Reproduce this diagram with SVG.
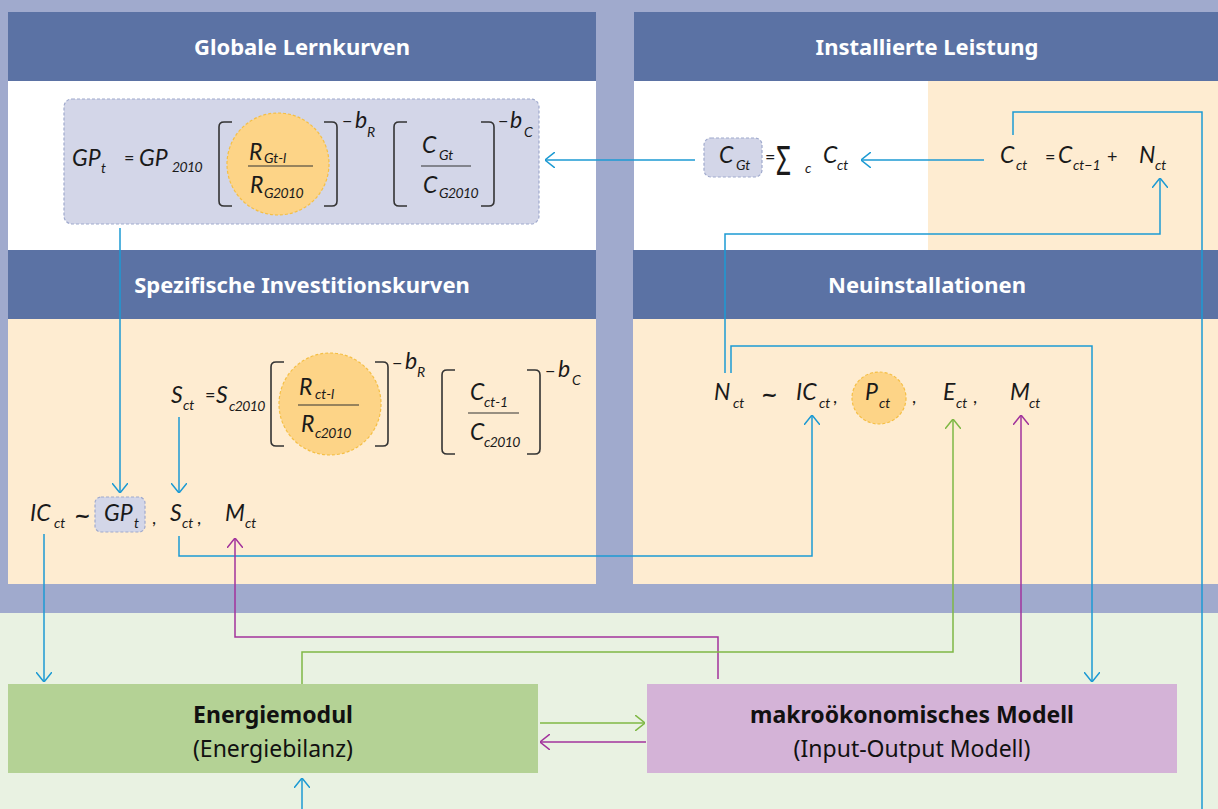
<svg xmlns="http://www.w3.org/2000/svg" width="1218" height="809" viewBox="0 0 1218 809">
<defs>
<style>
.hd{font-family:"Noto Sans","Open Sans",sans-serif;font-weight:700;font-size:22px;fill:#fff;text-anchor:middle}
.m{font-family:Lato,"Noto Sans",sans-serif;font-style:italic;font-size:23px;fill:#1a1a1a}
.s{font-family:Lato,"Noto Sans",sans-serif;font-style:italic;font-size:14px;fill:#1a1a1a}
.op{font-family:Lato,"DejaVu Sans",sans-serif;font-size:18px;fill:#1a1a1a}
.tl{font-family:"DejaVu Sans",sans-serif;font-weight:700;font-size:20px;fill:#1a1a1a}
.bx{font-family:"Noto Sans","Open Sans",sans-serif;font-size:23px;fill:#111;text-anchor:middle}
.br{fill:none;stroke:#333;stroke-width:1.6}
.fl{stroke:#333;stroke-width:1.2}
.hl{fill:#fdd487;stroke:#f5bf45;stroke-width:1.2;stroke-dasharray:3 2}
.gb{fill:#d3d6e8;stroke:#a0aacd;stroke-width:1.2;stroke-dasharray:3 2}
.cb{fill:none;stroke:#1c9ad3;stroke-width:1.5}
.cg{fill:none;stroke:#7fb845;stroke-width:1.5}
.cp{fill:none;stroke:#a2339c;stroke-width:1.5}
</style>
<marker id="ab" viewBox="0 0 10 16" refX="10" refY="8" markerWidth="10" markerHeight="16" markerUnits="userSpaceOnUse" orient="auto"><path d="M0,0 L10,8 L0,16" fill="none" stroke="#1c9ad3" stroke-width="1.5"/></marker>
<marker id="ag" viewBox="0 0 10 16" refX="10" refY="8" markerWidth="10" markerHeight="16" markerUnits="userSpaceOnUse" orient="auto"><path d="M0,0 L10,8 L0,16" fill="none" stroke="#7fb845" stroke-width="1.5"/></marker>
<marker id="ap" viewBox="0 0 10 16" refX="10" refY="8" markerWidth="10" markerHeight="16" markerUnits="userSpaceOnUse" orient="auto"><path d="M0,0 L10,8 L0,16" fill="none" stroke="#a2339c" stroke-width="1.5"/></marker>
</defs>

<!-- backgrounds -->
<rect x="0" y="0" width="1218" height="613" fill="#a0aacd"/>
<rect x="0" y="613" width="1218" height="196" fill="#e9f2e2"/>

<g id="panel-globale-lernkurven">
<rect x="8" y="12" width="588" height="69" fill="#5b72a4"/>
<text class="hd" x="302" y="55">Globale Lernkurven</text>
<rect x="8" y="81" width="588" height="169" fill="#fff"/>
</g>
<g id="panel-installierte-leistung">
<rect x="634" y="12" width="584" height="69" fill="#5b72a4"/>
<text class="hd" x="927" y="55">Installierte Leistung</text>
<rect x="634" y="81" width="294" height="169" fill="#fff"/>
<rect x="928" y="81" width="290" height="169" fill="#feecd1"/>
</g>
<g id="panel-spezifische">
<rect x="8" y="250" width="588" height="69" fill="#5b72a4"/>
<text class="hd" x="302" y="293">Spezifische Investitionskurven</text>
<rect x="8" y="319" width="588" height="265" fill="#feecd1"/>
</g>
<g id="panel-neuinstallationen">
<rect x="633" y="250" width="585" height="69" fill="#5b72a4"/>
<text class="hd" x="927" y="293">Neuinstallationen</text>
<rect x="633" y="319" width="585" height="265" fill="#feecd1"/>
</g>

<!-- Global learning curve equation -->
<g id="eq-global">
<rect class="gb" x="64" y="99" width="475" height="125" rx="8"/>
<text class="m" x="72" y="166">GP</text><text class="s" x="101" y="173">t</text>
<text class="op" x="124" y="164">=</text>
<text class="m" x="139" y="166">GP</text><text class="s" x="172" y="172" letter-spacing="-0.6">2010</text>
<path class="br" d="M232,122 H224 Q219,122 219,127 V201 Q219,206 224,206 H232 M324,122 H332 Q337,122 337,127 V201 Q337,206 332,206 H324"/>
<circle class="hl" cx="278" cy="164" r="51"/>
<text class="m" x="249" y="160">R</text><text class="s" x="264" y="163">Gt-l</text>
<line class="fl" x1="248" y1="166" x2="313" y2="166"/>
<text class="m" x="250" y="193">R</text><text class="s" x="264" y="198" letter-spacing="-0.6">G2010</text>
<text class="op" x="342" y="127" font-size="20">−</text><text class="m" x="355" y="128">b</text><text class="s" x="367" y="137">R</text>
<path class="br" d="M407,122 H399 Q394,122 394,127 V201 Q394,206 399,206 H407 M481,122 H489 Q494,122 494,127 V201 Q494,206 489,206 H481"/>
<text class="m" x="422" y="153">C</text><text class="s" x="439" y="160">Gt</text>
<line class="fl" x1="421" y1="166" x2="471" y2="166"/>
<text class="m" x="423" y="193">C</text><text class="s" x="439" y="198" letter-spacing="-0.6">G2010</text>
<text class="op" x="498" y="127" font-size="20">−</text><text class="m" x="510" y="128">b</text><text class="s" x="524" y="137">C</text>
</g>

<!-- Installierte Leistung equations -->
<g id="eq-cgt">
<rect class="gb" x="704" y="138" width="58" height="39" rx="7"/>
<text class="m" x="719" y="163">C</text><text class="s" x="736" y="170">Gt</text>
<text class="op" x="765" y="163" font-size="16">=</text>
<text x="776" y="175" font-family="Noto Sans, sans-serif" font-size="40" fill="#1a1a1a" textLength="15" lengthAdjust="spacingAndGlyphs">Σ</text>
<text class="s" x="805" y="173">c</text>
<text class="m" x="823" y="163">C</text><text class="s" x="837" y="170">ct</text>
</g>
<g id="eq-cct">
<text class="m" x="1000" y="163">C</text><text class="s" x="1016" y="170">ct</text>
<text class="op" x="1045" y="163">=</text>
<text class="m" x="1058" y="163">C</text><text class="s" x="1073" y="170">ct−1</text>
<text class="op" x="1107" y="163">+</text>
<text class="m" x="1139" y="163">N</text><text class="s" x="1155" y="170">ct</text>
</g>

<!-- Spezifische Investitionskurven -->
<g id="eq-sct">
<text class="m" x="171" y="403">S</text><text class="s" x="183" y="410">ct</text>
<text class="op" x="205" y="401">=</text>
<text class="m" x="216" y="403">S</text><text class="s" x="229" y="411" letter-spacing="-0.6">c2010</text>
<path class="br" d="M284,362 H276 Q271,362 271,367 V441 Q271,446 276,446 H284 M375,362 H383 Q388,362 388,367 V441 Q388,446 383,446 H375"/>
<circle class="hl" cx="330" cy="404" r="51"/>
<text class="m" x="299" y="395">R</text><text class="s" x="315" y="399">ct-l</text>
<line class="fl" x1="298" y1="405" x2="359" y2="405"/>
<text class="m" x="301" y="432">R</text><text class="s" x="315" y="438" letter-spacing="-0.6">c2010</text>
<text class="op" x="392" y="369" font-size="20">−</text><text class="m" x="405" y="369">b</text><text class="s" x="417" y="377">R</text>
<path class="br" d="M455,370 H447 Q442,370 442,375 V449 Q442,454 447,454 H455 M527,370 H535 Q540,370 540,375 V449 Q540,454 535,454 H527"/>
<text class="m" x="470" y="400">C</text><text class="s" x="484" y="407">ct-1</text>
<line class="fl" x1="468" y1="413" x2="519" y2="413"/>
<text class="m" x="470" y="440">C</text><text class="s" x="484" y="447" letter-spacing="-0.6">c2010</text>
<text class="op" x="545" y="377" font-size="20">−</text><text class="m" x="558" y="377">b</text><text class="s" x="572" y="385">C</text>
</g>
<g id="eq-icct">
<text class="m" x="30" y="521">IC</text><text class="s" x="54" y="528">ct</text>
<text class="tl" x="74" y="522">~</text>
<rect class="gb" x="95" y="497" width="50" height="35" rx="6"/>
<text class="m" x="104" y="521">GP</text><text class="s" x="134" y="528">t</text>
<text class="op" x="152" y="524">,</text>
<text class="m" x="170" y="521">S</text><text class="s" x="182" y="528">ct</text>
<text class="op" x="197" y="524">,</text>
<text class="m" x="225" y="521">M</text><text class="s" x="245" y="528">ct</text>
</g>

<!-- Neuinstallationen -->
<g id="eq-nct">
<text class="m" x="714" y="400">N</text><text class="s" x="733" y="408">ct</text>
<text class="tl" x="761" y="401">~</text>
<text class="m" x="796" y="400">IC</text><text class="s" x="819" y="408">ct</text>
<text class="op" x="833" y="403">,</text>
<ellipse class="hl" cx="879" cy="398" rx="27" ry="26"/>
<text class="m" x="865" y="400">P</text><text class="s" x="879" y="408">ct</text>
<text class="op" x="912" y="403">,</text>
<text class="m" x="943" y="400">E</text><text class="s" x="956" y="408">ct</text>
<text class="op" x="973" y="403">,</text>
<text class="m" x="1010" y="400">M</text><text class="s" x="1029" y="408">ct</text>
</g>

<!-- bottom modules -->
<g id="energiemodul">
<rect x="8" y="684" width="530" height="89" fill="#b4d295"/>
<text class="bx" x="273" y="723" font-weight="700" font-size="22.5">Energiemodul</text>
<text class="bx" x="273" y="757">(Energiebilanz)</text>
</g>
<g id="makro-modell">
<rect x="647" y="684" width="530" height="89" fill="#d4b3d7"/>
<text class="bx" x="912" y="723" font-weight="700" font-size="22.5">makroökonomisches Modell</text>
<text class="bx" x="912" y="757">(Input-Output Modell)</text>
</g>

<g id="connectors">
<path class="cb" d="M695,160 H545" marker-end="url(#ab)"/>
<path class="cb" d="M984,160 H861" marker-end="url(#ab)"/>
<path class="cb" d="M1013,135 V112 H1202 V809"/>
<path class="cb" d="M725,373 V234 H1160 V178" marker-end="url(#ab)"/>
<path class="cb" d="M731,373 V346 H1092 V682" marker-end="url(#ab)"/>
<path class="cb" d="M120,228 V493" marker-end="url(#ab)"/>
<path class="cb" d="M179,417 V493" marker-end="url(#ab)"/>
<path class="cb" d="M44,534 V682" marker-end="url(#ab)"/>
<path class="cb" d="M179,536 V556 H812 V415" marker-end="url(#ab)"/>
<path class="cp" d="M718,679 V637 H235 V538" marker-end="url(#ap)"/>
<path class="cg" d="M302,684 V652 H953 V419" marker-end="url(#ag)"/>
<path class="cp" d="M1021,682 V415" marker-end="url(#ap)"/>
<path class="cg" d="M540,723 H645" marker-end="url(#ag)"/>
<path class="cp" d="M646,742 H540" marker-end="url(#ap)"/>
<path class="cb" d="M302,809 V778" marker-end="url(#ab)"/>
</g>
</svg>
